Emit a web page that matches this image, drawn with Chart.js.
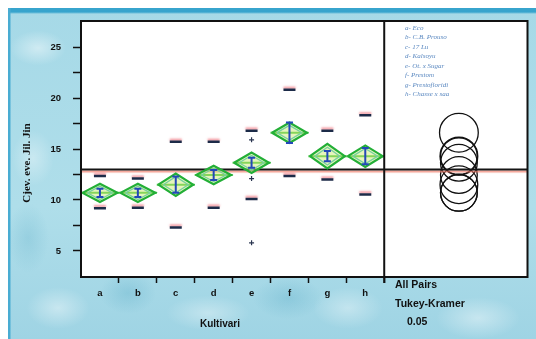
<!DOCTYPE html>
<html>
<head>
<meta charset="utf-8">
<script src="https://cdn.jsdelivr.net/npm/chart.js@4.4.1/dist/chart.umd.min.js"></script>
<style>
	html, body { margin: 0; padding: 0; background: #fff; }
	#wrap { position: relative; width: 536px; height: 339px; overflow: hidden; }
	#bg {
		position: absolute; left: 8px; top: 8px; right: 0; bottom: 0;
		background:
			linear-gradient(to right, #49acd2 0, #49acd2 2px, rgba(0,0,0,0) 3px),
			linear-gradient(to bottom, #37a4cd 0, #37a4cd 4px, rgba(0,0,0,0) 6px),
			radial-gradient(ellipse 40px 25px at 30px 40px, rgba(255,255,255,0.45), rgba(255,255,255,0) 70%),
			radial-gradient(ellipse 30px 40px at 25px 150px, rgba(255,255,255,0.35), rgba(255,255,255,0) 70%),
			radial-gradient(ellipse 45px 30px at 50px 300px, rgba(255,255,255,0.4), rgba(255,255,255,0) 70%),
			radial-gradient(ellipse 60px 25px at 200px 305px, rgba(255,255,255,0.35), rgba(255,255,255,0) 70%),
			radial-gradient(ellipse 50px 30px at 340px 300px, rgba(255,255,255,0.35), rgba(255,255,255,0) 70%),
			radial-gradient(ellipse 60px 30px at 470px 310px, rgba(255,255,255,0.4), rgba(255,255,255,0) 70%),
			radial-gradient(ellipse 40px 30px at 120px 285px, rgba(70,160,190,0.25), rgba(70,160,190,0) 70%),
			radial-gradient(ellipse 50px 30px at 280px 290px, rgba(70,160,190,0.25), rgba(70,160,190,0) 70%),
			radial-gradient(ellipse 30px 50px at 20px 230px, rgba(70,160,190,0.2), rgba(70,160,190,0) 70%),
			linear-gradient(to bottom, #a6d9e7, #afdeea 60%, #9fd4e4);
	}
	canvas { position: absolute; left: 0; top: 0; }
</style>
</head>
<body>
<div id="wrap">
	<div id="bg"></div>
	<canvas id="kultChart" width="536" height="339"></canvas>
</div>
<script>
// categories and group statistics
const cultivars = ["a", "b", "c", "d", "e", "f", "g", "h"];
const means = [10.7, 10.7, 11.5, 12.45, 13.65, 16.6, 14.3, 14.3];
const diamondHalf = [0.9, 0.9, 1.1, 0.9, 1.0, 1.0, 1.2, 1.05];
const stdErr = [0.4, 0.4, 0.8, 0.5, 0.5, 1.0, 0.5, 0.8];
const upperMarks = [12.35, 12.1, 15.7, 15.7, 16.8, 20.8, 16.8, 18.3];
const lowerMarks = [9.2, 9.25, 7.3, 9.25, 10.1, 12.35, 12.0, 10.55];
const extraCultivar = ["e", "e", "e"];
const extraValues = [15.9, 12.1, 5.8];
const grandMean = 13.0;
const circleRadius = [1.8, 1.8, 1.85, 1.8, 1.8, 1.9, 1.8, 1.85];
const yTickValues = [5, 7.5, 10, 12.5, 15, 17.5, 20, 22.5, 25];
const legendLines = ["a- Eco", "b- C.B. Prouso", "c- 17 Lu", "d- Kalsoyu", "e- Ot. x Sugar", "f- Prestom", "g- Prestofloridi", "h- Chasse x saa"];
const testLines = ["All Pairs", "Tukey-Kramer", "0.05"];
const xTitle = "Kultivari";
const yTitle = "Cjev. eve. Jil. Jin";

const X_MAX = 11.78;
const CIRCLE_X = 9.97;

const datasets = [];

// means diamonds
cultivars.forEach((c, i) => {
	const m = means[i], h = diamondHalf[i];
	datasets.push({
		type: "line",
		data: [
			{ x: i + 0.04, y: m }, { x: i + 0.5, y: m + h }, { x: i + 0.96, y: m },
			{ x: i + 0.5, y: m - h }, { x: i + 0.04, y: m }
		],
		borderColor: "rgb(35, 175, 55)",
		backgroundColor: "rgba(205, 235, 120, 0.5)",
		fill: "shape",
		borderWidth: 2.2,
		pointRadius: 0,
		tension: 0
	});
	datasets.push({
		type: "line",
		data: [
			{ x: i + 0.17, y: m }, { x: i + 0.5, y: m + h * 0.72 }, { x: i + 0.83, y: m },
			{ x: i + 0.5, y: m - h * 0.72 }, { x: i + 0.17, y: m }
		],
		borderColor: "rgb(30, 180, 200)",
		borderWidth: 1.3,
		pointRadius: 0,
		tension: 0
	});
	datasets.push({
		type: "line",
		data: [{ x: i, y: m }, { x: i + 1, y: m }],
		borderColor: "rgb(60, 190, 60)",
		borderWidth: 2,
		pointRadius: 0
	});
});

// quantile dashes
const marksIndex = datasets.length;
datasets.push({
	type: "scatter",
	data: upperMarks.map((v, i) => ({ x: i + 0.5, y: v })).concat(lowerMarks.map((v, i) => ({ x: i + 0.5, y: v }))),
	pointStyle: "line",
	pointRadius: 6,
	borderColor: "#1c2b48",
	borderWidth: 2.5
});

// single points
datasets.push({
	type: "scatter",
	data: extraValues.map((v, k) => ({ x: cultivars.indexOf(extraCultivar[k]) + 0.5, y: v })),
	pointStyle: "cross",
	pointRadius: 2.5,
	borderColor: "#2a3550",
	borderWidth: 1.2
});

// grand mean line
const meanLineIndex = datasets.length;
datasets.push({
	type: "line",
	data: [{ x: 0, y: grandMean }, { x: X_MAX, y: grandMean }],
	borderColor: "#151515",
	borderWidth: 2,
	pointRadius: 0
});

// comparison circles
datasets.push({
	type: "scatter",
	data: means.map(m => ({ x: CIRCLE_X, y: m })),
	pointStyle: "circle",
	pointRadius: ctx => {
		const y = ctx.chart.scales.y;
		const m = means[ctx.dataIndex];
		return Math.abs(y.getPixelForValue(m) - y.getPixelForValue(m + circleRadius[ctx.dataIndex]));
	},
	backgroundColor: "rgba(0,0,0,0)",
	borderColor: "#111",
	borderWidth: 1.3
});

const plotFrame = {
	id: "plotFrame",
	beforeDraw(chart) {
		const { ctx, chartArea: a } = chart;
		ctx.save();
		ctx.fillStyle = "#fff";
		ctx.fillRect(a.left, a.top, a.right - a.left, a.bottom - a.top);
		ctx.restore();
	},
	beforeDatasetDraw(chart, args) {
		const ctx = chart.ctx;
		if (args.index === marksIndex) {
			ctx.save();
			ctx.shadowColor = "rgba(240, 120, 130, 0.7)";
			ctx.shadowOffsetY = -2;
			ctx.shadowBlur = 2;
		} else if (args.index === meanLineIndex) {
			ctx.save();
			ctx.shadowColor = "rgba(240, 120, 100, 0.7)";
			ctx.shadowOffsetY = 2;
			ctx.shadowBlur = 1;
		}
	},
	afterDatasetDraw(chart, args) {
		if (args.index === marksIndex || args.index === meanLineIndex) chart.ctx.restore();
	},
	afterDatasetsDraw(chart) {
		const { ctx, chartArea: a, scales } = chart;
		ctx.save();
		// error bars
		ctx.strokeStyle = "#2348b8";
		ctx.lineWidth = 2;
		means.forEach((m, i) => {
			const x = scales.x.getPixelForValue(i + 0.5);
			const y1 = scales.y.getPixelForValue(m - stdErr[i]);
			const y2 = scales.y.getPixelForValue(m + stdErr[i]);
			ctx.beginPath();
			ctx.moveTo(x, y1); ctx.lineTo(x, y2);
			ctx.moveTo(x - 3.5, y1); ctx.lineTo(x + 3.5, y1);
			ctx.moveTo(x - 3.5, y2); ctx.lineTo(x + 3.5, y2);
			ctx.stroke();
		});
		// frame
		ctx.strokeStyle = "#111";
		ctx.lineWidth = 2;
		ctx.strokeRect(a.left, a.top, a.right - a.left, a.bottom - a.top);
		const sx = scales.x.getPixelForValue(8);
		ctx.beginPath();
		ctx.moveTo(sx, a.top); ctx.lineTo(sx, a.bottom + 6);
		ctx.stroke();
		// texts
		ctx.fillStyle = "#111";
		ctx.font = "bold 10px 'Liberation Sans', Arial, sans-serif";
		ctx.textAlign = "center";
		ctx.textBaseline = "middle";
		ctx.fillText(xTitle, 220, 324);
		ctx.save();
		ctx.translate(27, 163);
		ctx.rotate(-Math.PI / 2);
		ctx.font = "bold 11px 'Liberation Serif', serif";
		ctx.fillText(yTitle, 0, 0);
		ctx.restore();
		ctx.textAlign = "left";
		ctx.font = "bold 10.5px 'Liberation Sans', Arial, sans-serif";
		ctx.fillText(testLines[0], 395, 285);
		ctx.fillText(testLines[1], 395, 304);
		ctx.fillText(testLines[2], 407, 322);
		ctx.fillStyle = "#5a88c0";
		ctx.font = "italic 7px 'Liberation Serif', serif";
		legendLines.forEach((t, i) => ctx.fillText(t, 405, 28 + i * 9.5));
		ctx.restore();
	}
};

new Chart(document.getElementById("kultChart"), {
	data: { datasets: datasets },
	options: {
		responsive: false,
		animation: false,
		layout: { padding: { left: 0, top: 21, right: 8, bottom: 0 } },
		scales: {
			x: {
				type: "linear",
				min: 0,
				max: X_MAX,
				afterBuildTicks: s => {
					const t = [];
					for (let v = 0.5; v <= 8; v += 0.5) t.push({ value: v });
					s.ticks = t;
				},
				afterFit: s => { s.height = 62; },
				border: { display: false },
				grid: {
					drawOnChartArea: false,
					tickLength: 6,
					tickColor: ctx => (ctx.tick && Number.isInteger(ctx.tick.value)) ? "#111" : "rgba(0,0,0,0)",
					tickWidth: 1.5
				},
				ticks: {
					autoSkip: false,
					maxRotation: 0,
					padding: 5,
					color: "#111",
					font: { family: "'Liberation Sans', Arial, sans-serif", size: 9.5, weight: "bold" },
					callback: v => Number.isInteger(v) ? "" : cultivars[Math.floor(v)]
				}
			},
			y: {
				type: "linear",
				min: 2.45,
				max: 27.55,
				afterBuildTicks: s => { s.ticks = yTickValues.map(v => ({ value: v })); },
				afterFit: s => { s.width = 81; },
				border: { display: false },
				grid: {
					drawOnChartArea: false,
					tickLength: 8,
					tickColor: "#111",
					tickWidth: 1.5
				},
				ticks: {
					padding: 12,
					color: "#111",
					font: { family: "'Liberation Sans', Arial, sans-serif", size: 9.5, weight: "bold" },
					callback: v => (v % 5 === 0) ? String(v) : ""
				}
			}
		},
		plugins: {
			legend: { display: false },
			tooltip: { enabled: false }
		}
	},
	plugins: [plotFrame]
});
</script>
</body>
</html>
